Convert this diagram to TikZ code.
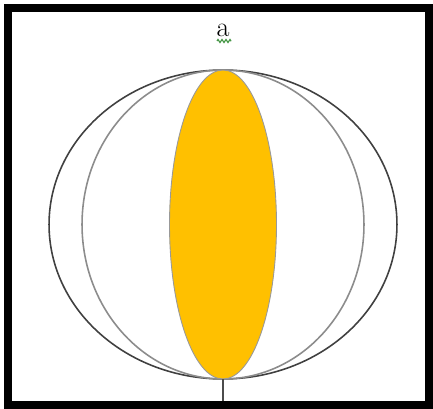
\documentclass[tikz,border=0pt]{standalone}
\usetikzlibrary{shapes.geometric,decorations.pathmorphing}
\definecolor{lensfill}{RGB}{255,192,0}
\definecolor{spellgreen}{RGB}{70,150,70}
\begin{document}
\begin{tikzpicture}[x=0.02cm,y=-0.02cm,
	outerring/.style={ draw=black!75, line width=0.9pt, ellipse, inner sep=0pt },
	innerring/.style={ draw=black!45, line width=0.9pt, ellipse, inner sep=0pt },
	lens/.style={ draw=black!40, fill=lensfill, line width=0.5pt, ellipse, inner sep=0pt }
]
\useasboundingbox (0,0) rectangle (433,409);

\draw[line width=0.16cm] (8,8) rectangle (429,405);

\node at (223,224.5) (outer) [outerring,minimum width=6.96cm,minimum height=6.18cm] {};
\node at (223,224.5) (inner) [innerring,minimum width=5.64cm,minimum height=6.18cm] {};
\node at (223,224.5) (core) [lens,minimum width=2.14cm,minimum height=6.18cm] {};
%		\draw[dashed] (core.north) -- (core.south);
\coordinate (foot) at (223,401);
\draw[black!70, line width=0.6pt] (core.south) -- (foot);

\node at (223,30) (lbl) {\fontsize{16}{19}\selectfont a};
\draw[spellgreen, line width=0.7pt, decorate,
	decoration={zigzag, segment length=0.08cm, amplitude=0.03cm}]
	(217,41) -- (231,41);

\end{tikzpicture}
\end{document}
